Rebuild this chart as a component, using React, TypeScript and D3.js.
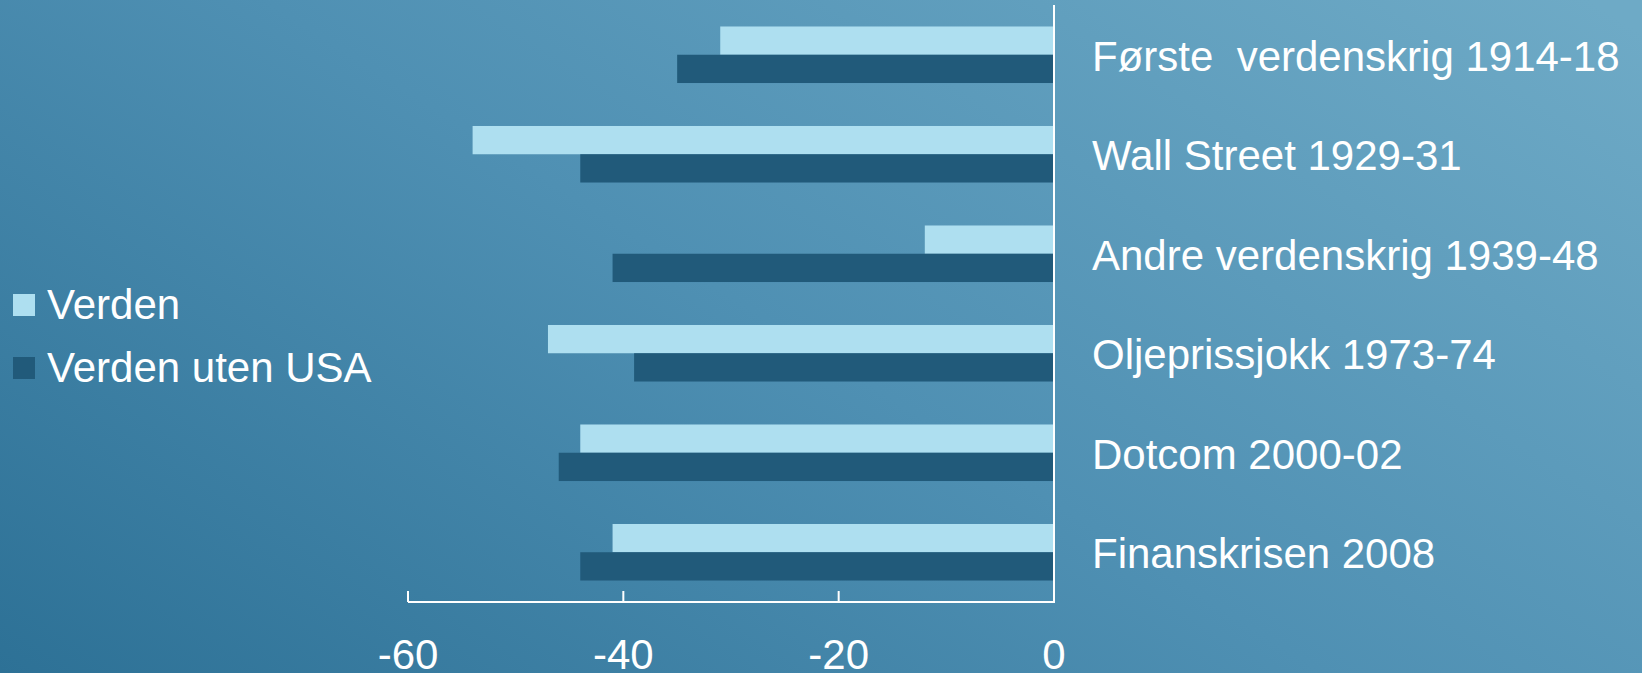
import { useEffect } from 'react'
import * as d3 from 'd3'

const categories = [
  'Første  verdenskrig 1914-18',
  'Wall Street 1929-31',
  'Andre verdenskrig 1939-48',
  'Oljeprissjokk 1973-74',
  'Dotcom 2000-02',
  'Finanskrisen 2008',
]
const verden = [-31, -54, -12, -47, -44, -41]
const utenUsa = [-35, -44, -41, -39, -46, -44]
const seriesNames = ['Verden', 'Verden uten USA']
const ticks = [-60, -40, -20, 0]

const W = 1642
const H = 673
const FONT = 'Liberation Sans, Arial, sans-serif'
const colors = ['#aedff0', '#215a7a']

export default function App() {
  useEffect(() => {
    document.body.style.margin = '0'
  }, [])

  const plot = { left: 408, right: 1054, top: 5, bottom: 602 }

  const x = d3.scaleLinear().domain([-60, 0]).range([plot.left, plot.right])
  const y = d3.scaleBand<string>().domain(categories).range([plot.top, plot.bottom])
  const inner = d3
    .scaleBand<number>()
    .domain([0, 1])
    .range([0, y.bandwidth()])
    .paddingOuter(0.76)
    .paddingInner(0)

  const series = [verden, utenUsa]

  return (
    <svg width={W} height={H} style={{ display: 'block', position: 'absolute', left: 0, top: 0 }}>
      <defs>
        <linearGradient id="bg" gradientUnits="userSpaceOnUse" x1="0" y1="673" x2="762" y2="-526">
          <stop offset="0%" stopColor="#2d7196" />
          <stop offset="50%" stopColor="#4f90b3" />
          <stop offset="100%" stopColor="#6eaac6" />
        </linearGradient>
      </defs>
      <rect width={W} height={H} fill="url(#bg)" />

      {series.map((vals, si) =>
        vals.map((v, i) => (
          <rect
            key={`${si}-${i}`}
            x={x(v)}
            y={(y(categories[i]) ?? 0) + (inner(si) ?? 0)}
            width={x(0) - x(v)}
            height={inner.bandwidth()}
            fill={colors[si]}
          />
        ))
      )}

      {/* category labels right of the zero line */}
      {categories.map((c) => (
        <text
          key={c}
          x={x(0) + 38}
          y={(y(c) ?? 0) + y.bandwidth() / 2 + 16}
          fill="#fff"
          fontFamily={FONT}
          fontSize={42}
          style={{ whiteSpace: 'pre' }}
        >
          {c}
        </text>
      ))}

      {/* axes */}
      <line x1={x(0)} x2={x(0)} y1={plot.top} y2={plot.bottom + 1} stroke="#fff" strokeWidth={2} />
      <line x1={x(-60)} x2={x(0)} y1={plot.bottom} y2={plot.bottom} stroke="#fff" strokeWidth={2} />
      {ticks.map((t) => (
        <g key={t}>
          <line x1={x(t)} x2={x(t)} y1={plot.bottom - 11} y2={plot.bottom} stroke="#fff" strokeWidth={2} />
          <text x={x(t)} y={669} textAnchor="middle" fill="#fff" fontFamily={FONT} fontSize={42}>
            {t}
          </text>
        </g>
      ))}

      {/* legend */}
      {seriesNames.map((n, i) => (
        <g key={n} transform={`translate(13,${294 + i * 63})`}>
          <rect width={22} height={22} fill={colors[i]} />
          <text x={34} y={25} fill="#fff" fontFamily={FONT} fontSize={42}>
            {n}
          </text>
        </g>
      ))}
    </svg>
  )
}
